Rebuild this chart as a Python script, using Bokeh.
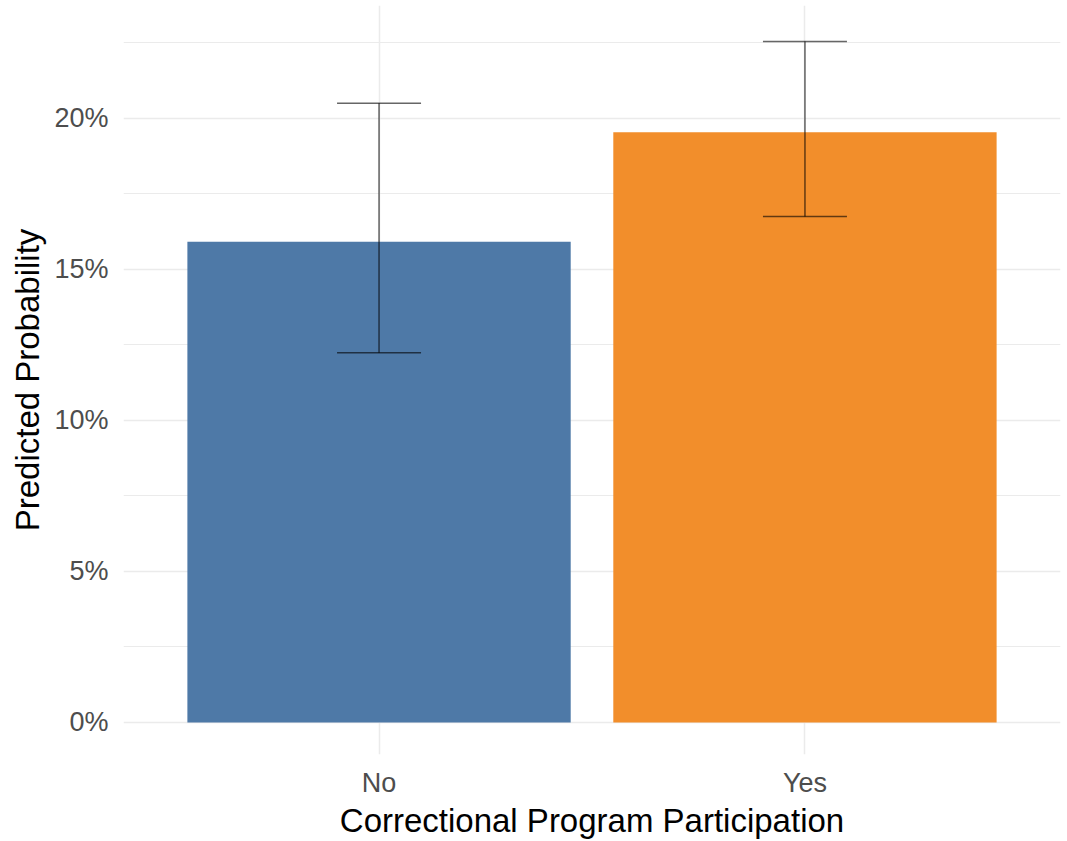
from bokeh.plotting import figure
from bokeh.models import (ColumnDataSource, Range1d, FixedTicker, NumeralTickFormatter,
                          Whisker, TeeHead)
from bokeh.embed import file_html
from bokeh.resources import INLINE

# ---- data ----
categories = ["No", "Yes"]
predicted = [0.1592, 0.1954]
ci_lower = [0.1224, 0.1675]
ci_upper = [0.2050, 0.2255]
bar_colors = ["#4E79A7", "#F28E2B"]
y_ticks = [0.0, 0.05, 0.10, 0.15, 0.20]
y_minor = [0.025, 0.075, 0.125, 0.175, 0.225]

xpos = list(range(1, len(categories) + 1))
src = ColumnDataSource(dict(x=xpos, cat=categories, y=predicted,
                            lo=ci_lower, hi=ci_upper, color=bar_colors))

FONT = "Liberation Sans"

p = figure(width=1067, height=841, output_backend="svg", toolbar_location=None,
           x_range=Range1d(0.4, 2.6), y_range=Range1d(-0.0106, 0.2374),
           min_border_left=123, min_border_right=7, min_border_top=5,
           min_border_bottom=10)
p.outline_line_color = None
p.background_fill_color = "white"
p.border_fill_color = "white"

p.vbar(x="x", top="y", bottom=0, width=0.9, fill_color="color",
       line_color=None, source=src)

w = Whisker(base="x", lower="lo", upper="hi", source=src, level="annotation",
            line_color="black", line_alpha=0.6, line_width=1.5,
            upper_head=TeeHead(size=84, line_color="black", line_alpha=0.6, line_width=1.5),
            lower_head=TeeHead(size=84, line_color="black", line_alpha=0.6, line_width=1.5))
p.add_layout(w)

# axes
p.xaxis.ticker = FixedTicker(ticks=xpos)
p.xaxis.major_label_overrides = {x: c for x, c in zip(xpos, categories)}
p.yaxis.ticker = FixedTicker(ticks=y_ticks, minor_ticks=y_minor)
p.yaxis.formatter = NumeralTickFormatter(format="0%")

for ax in (p.xaxis[0], p.yaxis[0]):
    ax.axis_line_color = None
    ax.major_tick_line_color = None
    ax.minor_tick_line_color = None
    ax.major_tick_out = 0
    ax.major_tick_in = 0
    ax.minor_tick_out = 0
    ax.minor_tick_in = 0
    ax.major_label_text_font = FONT
    ax.major_label_text_font_size = "27px"
    ax.major_label_text_color = "#4D4D4D"
    ax.axis_label_text_font = FONT
    ax.axis_label_text_font_size = "33px"
    ax.axis_label_text_font_style = "normal"
    ax.axis_label_text_color = "black"

p.xaxis.axis_label = "Correctional Program Participation"
p.yaxis.axis_label = "Predicted Probability"
p.xaxis.major_label_standoff = 13
p.xaxis.axis_label_standoff = 1
p.yaxis.major_label_standoff = 15
p.yaxis.axis_label_standoff = 5

# grids
p.xgrid.grid_line_color = "#EBEBEB"
p.xgrid.grid_line_width = 1.5
p.ygrid.grid_line_color = "#EBEBEB"
p.ygrid.grid_line_width = 1.5
p.ygrid.minor_grid_line_color = "#EBEBEB"
p.ygrid.minor_grid_line_width = 1.2
p.xgrid.level = "underlay"
p.ygrid.level = "underlay"

open("out.html", "w").write(file_html(p, INLINE))
